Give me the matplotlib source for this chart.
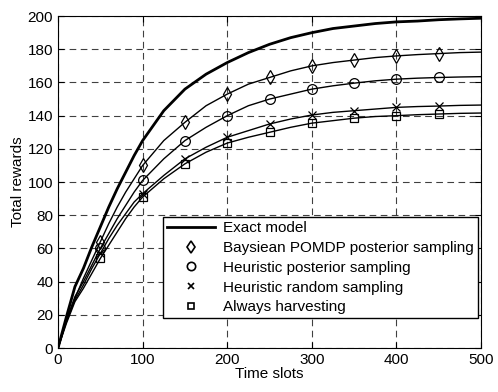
import matplotlib.pyplot as plt
import numpy as np

plt.rcParams['font.family'] = ['Liberation Sans', 'DejaVu Sans']

# time slots where curves are sampled
t = [0, 10, 20, 30, 40, 50, 60, 70, 80, 90, 100, 125, 150, 175, 200, 225,
     250, 275, 300, 325, 350, 375, 400, 425, 450, 475, 500]

exact = [0, 19, 37, 48, 61, 73, 85, 96, 106, 116, 125, 143, 156, 165, 172,
         178, 183, 187, 190, 192.5, 194, 195.5, 196.5, 197, 197.8, 198.3, 198.7]
bayes = [0, 17, 30, 42, 53, 64, 75, 85, 94, 102, 110, 125, 136, 146, 153,
         159, 163, 167, 170, 172, 173.5, 175, 176, 176.8, 177.4, 178, 178.3]
heur_post = [0, 17, 31, 40, 50, 60, 69, 78, 86, 94, 101, 114, 125, 133, 140,
             146, 150, 153, 156, 158, 159.6, 161, 162, 162.6, 163, 163.3, 163.5]
heur_rand = [0, 16, 29, 38, 48, 57, 66, 74, 81, 88, 93, 104, 114, 121, 127,
             131, 135, 138, 140.4, 142, 143, 144, 145, 145.5, 145.8, 146.2, 146.4]
always = [0, 15, 28, 36, 45, 54, 62, 70, 78, 85, 91, 102, 111, 118, 123.5,
          127, 130, 133, 135.5, 137, 138.5, 139.5, 140, 140.6, 141, 141.4, 141.6]

labels = ["Exact model", "Baysiean POMDP posterior sampling",
          "Heuristic posterior sampling", "Heuristic random sampling",
          "Always harvesting"]

# markers only on 50, 100, ..., 450
mark_idx = [t.index(v) for v in range(50, 451, 50)]

fig = plt.figure(figsize=(4.98, 3.92), dpi=100)
ax = fig.add_axes([0.1165, 0.112, 0.8495, 0.847])

ax.plot(t, exact, color='k', lw=2)
ax.plot(t, bayes, color='k', lw=1, marker='d', ms=7, mfc='none', mew=0.9, markevery=mark_idx)
ax.plot(t, heur_post, color='k', lw=1, marker='o', ms=7, mfc='none', mew=0.9, markevery=mark_idx)
ax.plot(t, heur_rand, color='k', lw=1, marker='x', ms=6, mew=0.9, markevery=mark_idx)
ax.plot(t, always, color='k', lw=1, marker='s', ms=6, mfc='none', mew=0.9, markevery=mark_idx)

# legend handles: line for the exact model, markers only for the rest
h = [plt.Line2D([], [], color='k', lw=2),
     plt.Line2D([], [], ls='none', color='k', marker='d', ms=6, mfc='none', mew=1.2),
     plt.Line2D([], [], ls='none', color='k', marker='o', ms=6, mfc='none', mew=1.2),
     plt.Line2D([], [], ls='none', color='k', marker='x', ms=5, mew=1.2),
     plt.Line2D([], [], ls='none', color='k', marker='s', ms=5, mfc='none', mew=1.2)]
leg = ax.legend(h, labels, loc='lower right', bbox_to_anchor=(0.992, 0.09),
                fontsize=11, fancybox=False, framealpha=1, edgecolor='k',
                borderpad=0.25, labelspacing=0.38, handlelength=3.2,
                handletextpad=0.5, borderaxespad=0)
leg.get_frame().set_linewidth(1)

ax.set_xlim(0, 500)
ax.set_ylim(0, 200)
ax.set_xticks(range(0, 501, 100))
ax.set_yticks(range(0, 201, 20))
ax.tick_params(direction='in', labelsize=11, length=4, top=True, right=True)
ax.grid(True, color='k', ls=(0, (6, 4)), lw=0.8, alpha=0.75)
for s in ax.spines.values():
    s.set_linewidth(0.8)

ax.set_xlabel("Time slots", fontsize=11, labelpad=0)
ax.set_ylabel("Total rewards", fontsize=11, labelpad=2)

fig.savefig("out.png", dpi=100)
